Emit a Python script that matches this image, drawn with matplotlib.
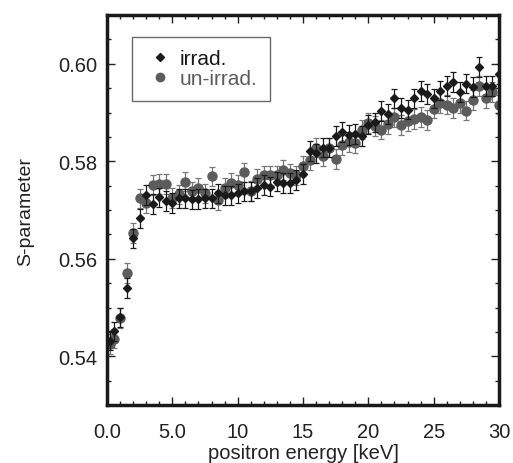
import numpy as np
import matplotlib
matplotlib.use('Agg')
import matplotlib.pyplot as plt
from matplotlib.ticker import MultipleLocator
from matplotlib.lines import Line2D

plt.rcParams['font.family'] = ['Liberation Sans', 'DejaVu Sans']

# positron energy [keV]
energy = [0.2, 0.5, 1.0, 1.5, 2.0, 2.5, 3.0, 3.5, 4.0, 4.5, 5.0, 5.5, 6.0, 6.5, 7.0,
          7.5, 8.0, 8.5, 9.0, 9.5, 10.0, 10.5, 11.0, 11.5, 12.0, 12.5, 13.0, 13.5,
          14.0, 14.5, 15.0, 15.5, 16.0, 16.5, 17.0, 17.5, 18.0, 18.5, 19.0, 19.5,
          20.0, 20.5, 21.0, 21.5, 22.0, 22.5, 23.0, 23.5, 24.0, 24.5, 25.0, 25.5,
          26.0, 26.5, 27.0, 27.5, 28.0, 28.5, 29.0, 29.5, 30.0]

s_irrad = [0.5432, 0.5451, 0.5480, 0.5540, 0.5642, 0.5683, 0.5731, 0.5712, 0.5726,
           0.5718, 0.5714, 0.5724, 0.5724, 0.5722, 0.5723, 0.5724, 0.5724, 0.5734,
           0.5730, 0.5730, 0.5734, 0.5738, 0.5738, 0.5745, 0.5751, 0.5748, 0.5758,
           0.5755, 0.5755, 0.5762, 0.5774, 0.5821, 0.5816, 0.5828, 0.5828, 0.5852,
           0.5860, 0.5854, 0.5856, 0.5852, 0.5875, 0.5880, 0.5903, 0.5897, 0.5929,
           0.5909, 0.5906, 0.5929, 0.5944, 0.5938, 0.5929, 0.5945, 0.5954, 0.5963,
           0.5942, 0.5959, 0.5952, 0.5993, 0.5954, 0.5954, 0.5979]

s_unirrad = [0.5425, 0.5436, 0.5478, 0.5571, 0.5653, 0.5724, 0.5714, 0.5751, 0.5753,
             0.5753, 0.5725, 0.5732, 0.5758, 0.5738, 0.5745, 0.5734, 0.5769, 0.5720,
             0.5745, 0.5755, 0.5751, 0.5777, 0.5739, 0.5764, 0.5771, 0.5771, 0.5771,
             0.5782, 0.5775, 0.5771, 0.5790, 0.5803, 0.5828, 0.5810, 0.5828, 0.5805,
             0.5833, 0.5839, 0.5837, 0.5865, 0.5878, 0.5872, 0.5865, 0.5876, 0.5890,
             0.5874, 0.5883, 0.5887, 0.5891, 0.5885, 0.5908, 0.5920, 0.5916, 0.5909,
             0.5920, 0.5904, 0.5926, 0.5954, 0.5929, 0.5942, 0.5916]

err_irrad = 0.002
err_unirrad = 0.002

xtick_vals = [0, 5, 10, 15, 20, 25, 30]
xtick_labels = ['0.0', '5.0', '10', '15', '20', '25', '30']
ytick_vals = [0.54, 0.56, 0.58, 0.60]
ytick_labels = ['0.54', '0.56', '0.58', '0.60']

black = '#1a1a1a'
grey = '#5c5c5c'
text_col = '#222222'

fig = plt.figure(figsize=(5.13, 4.64), dpi=100)
ax = fig.add_axes([0.2086, 0.125, 0.7641, 0.8405])

ax.errorbar(energy, s_unirrad, yerr=err_unirrad, fmt='o', color=grey, ms=6.5,
            ecolor='#777777', elinewidth=0.9, capsize=2.5, capthick=0.9, zorder=2)
ax.errorbar(energy, s_irrad, yerr=err_irrad, fmt='D', color=black, ms=4,
            ecolor=black, elinewidth=0.9, capsize=2.5, capthick=0.9, zorder=3)

ax.set_xlim(0, 30)
ax.set_ylim(0.53, 0.61)
ax.set_xticks(xtick_vals)
ax.set_xticklabels(xtick_labels)
ax.set_yticks(ytick_vals)
ax.set_yticklabels(ytick_labels)
ax.xaxis.set_minor_locator(MultipleLocator(1))
ax.yaxis.set_minor_locator(MultipleLocator(0.005))
ax.tick_params(which='both', direction='in', top=True, right=True,
               labelsize=14.5, colors=text_col)
ax.tick_params(axis='x', which='major', pad=12)
ax.tick_params(axis='y', which='major', pad=7)
ax.tick_params(which='major', length=6, width=1)
ax.tick_params(which='minor', length=3, width=1)
for sp in ax.spines.values():
    sp.set_linewidth(2.5)
    sp.set_color('#1a1a1a')

ax.set_xlabel('positron energy [keV]', fontsize=14.5, color=text_col, labelpad=2)
ax.set_ylabel('S-parameter', fontsize=14, color=text_col, labelpad=17)

handles = [Line2D([], [], ls='none', marker='D', ms=4, color=black),
           Line2D([], [], ls='none', marker='o', ms=6, color=grey)]
leg = ax.legend(handles, ['irrad.', 'un-irrad.'], loc='upper left',
                bbox_to_anchor=(0.064, 0.944), borderaxespad=0, fontsize=15,
                frameon=True, fancybox=False, borderpad=0.6, handletextpad=0.2,
                labelspacing=0.05, handlelength=1.5)
leg.get_frame().set_edgecolor('#444444')
leg.get_frame().set_linewidth(1)
for txt, col in zip(leg.get_texts(), [black, grey]):
    txt.set_color(col)

fig.savefig('out.png', dpi=100)
